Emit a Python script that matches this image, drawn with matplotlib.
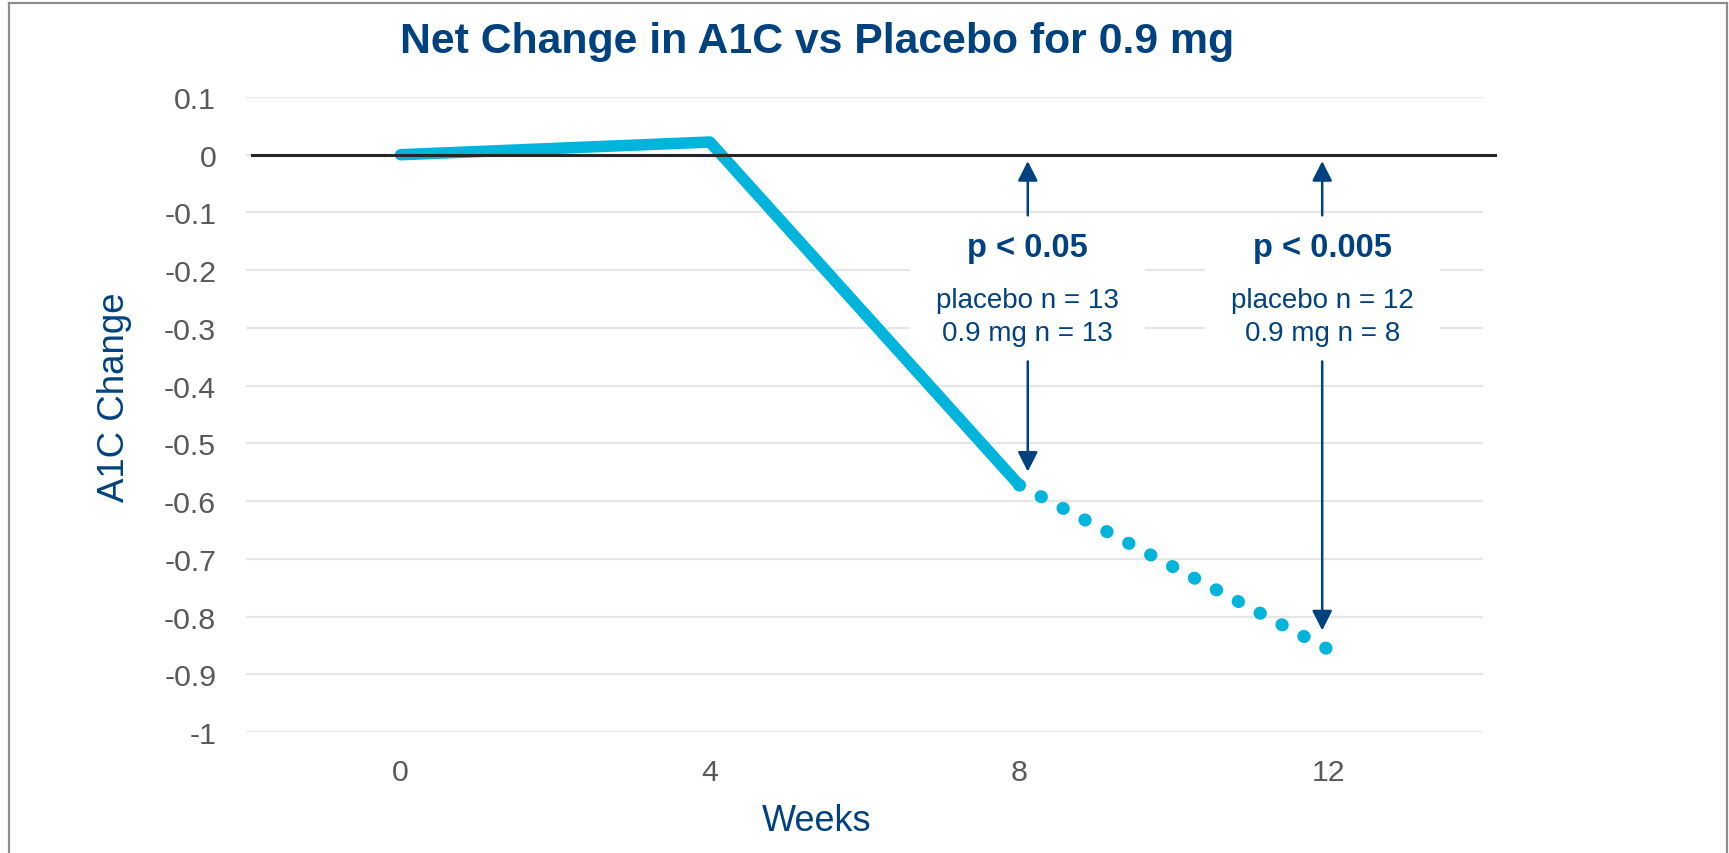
import matplotlib
matplotlib.use("Agg")
import matplotlib.pyplot as plt
from matplotlib.lines import Line2D
from matplotlib.patches import Rectangle

plt.rcParams['font.family'] = ['Liberation Sans', 'DejaVu Sans']

# data
weeks = ['0', '4', '8', '12']
a1c_solid = [0.0, 0.022, -0.572]
a1c_dotted = [-0.572, -0.857]
y_ticks = [0.1, 0.0, -0.1, -0.2, -0.3, -0.4, -0.5, -0.6, -0.7, -0.8, -0.9, -1.0]
y_tick_labels = ['0.1', '0', '-0.1', '-0.2', '-0.3', '-0.4', '-0.5', '-0.6',
                 '-0.7', '-0.8', '-0.9', '-1']
p_labels = ['p < 0.05', 'p < 0.005']
n_labels = ['placebo n = 13\n0.9 mg n = 13', 'placebo n = 12\n0.9 mg n = 8']
arrow_weeks = [2, 3]          # category index of week 8 and week 12
arrow_tips = [-0.549, -0.824]

navy = '#00427F'
cyan = '#00B4DC'
grey_txt = '#595959'

W, H = 1729, 854
fig = plt.figure(figsize=(W / 100, H / 100), dpi=100)
ax = fig.add_axes([246 / W, 1 - 733 / H, (1483 - 246) / W, (733 - 98) / H])

x = list(range(len(weeks)))
ax.plot(x[:3], a1c_solid, color=cyan, lw=8.3, solid_capstyle='round',
        solid_joinstyle='round', zorder=4)
ax.plot(x[2:], a1c_dotted, color=cyan, lw=9.3, linestyle=(0, (0.04, 1.88)),
        dash_capstyle='round', zorder=4)
ax.axhline(0, xmin=0.005, xmax=1.01, color='#262626', lw=2.2, zorder=5,
           clip_on=False)

ax.set_xlim(-0.5, 3.5)
ax.set_ylim(-1.0, 0.1)
ax.set_xticks(x)
ax.set_xticklabels(weeks)
ax.set_yticks(y_ticks)
ax.set_yticklabels(y_tick_labels)
ax.tick_params(length=0, labelsize=21.8, labelcolor=grey_txt)
ax.tick_params(axis='y', pad=21.5)
ax.tick_params(axis='x', pad=19)
ax.grid(axis='y', color='#E6E6E6', lw=1.6, zorder=0)
for s in ax.spines.values():
    s.set_visible(False)

ax.set_xlabel('Weeks', fontsize=26, color=navy)
ax.xaxis.set_label_coords(817 / W, 1 - 822 / H, transform=fig.transFigure)
ax.xaxis.label.set_va('center')
ax.set_ylabel('A1C Change', fontsize=26.4, color=navy)
ax.yaxis.set_label_coords(114 / W, 1 - 397 / H, transform=fig.transFigure)
ax.yaxis.label.set_va('center')

fig.text(817.5 / W, 1 - 42 / H, 'Net Change in A1C vs Placebo for 0.9 mg',
         ha='center', va='center', fontsize=30.8, fontweight='bold', color=navy)

# annotations: arrows up to zero, white box with stats, arrow down to point
arrow_style = '-|>,head_length=0.75,head_width=0.38'
for i, xi in enumerate(arrow_weeks):
    xa = xi + 0.028 if i == 0 else xi - 0.02
    ax.add_patch(Rectangle((xa - 0.38, -0.355), 0.76, 0.25, fc='white',
                           ec='none', zorder=2))
    ax.annotate('', xy=(xa, -0.011), xytext=(xa, -0.105),
                arrowprops=dict(arrowstyle=arrow_style, mutation_scale=16,
                                color=navy, lw=1.8, shrinkA=0, shrinkB=0),
                zorder=5)
    ax.annotate('', xy=(xa, arrow_tips[i]), xytext=(xa, -0.358),
                arrowprops=dict(arrowstyle=arrow_style, mutation_scale=16,
                                color=navy, lw=1.8, shrinkA=0, shrinkB=0),
                zorder=5)
    ax.text(xa, -0.16, p_labels[i], ha='center', va='center', fontsize=23.5,
            fontweight='bold', color=navy, zorder=6)
    ax.text(xa, -0.28, n_labels[i], ha='center', va='center', fontsize=20,
            color=navy, linespacing=1.32, zorder=6)

# outer frame (left, top, right visible in the reference)
for xs, ys in [([9 / W, 9 / W], [0, 1 - 4 / H]),
               ([9 / W, 1727 / W], [1 - 4 / H, 1 - 4 / H]),
               ([1727 / W, 1727 / W], [0, 1 - 4 / H])]:
    fig.add_artist(Line2D(xs, ys, color='#8C8C8C', lw=1.6))

fig.savefig('out.png', dpi=100)
